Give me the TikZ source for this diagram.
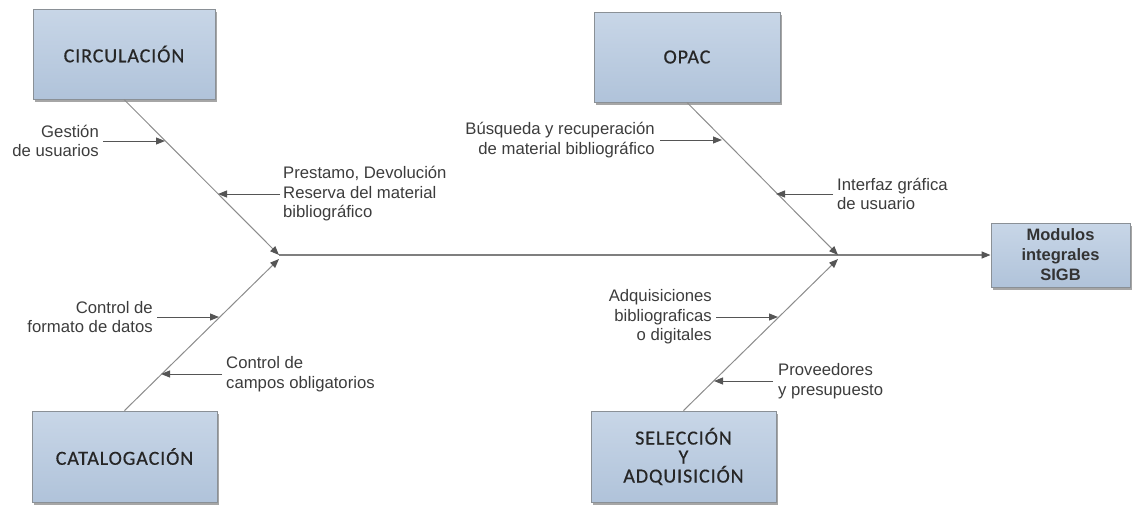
\documentclass[tikz,border=0pt]{standalone}
\usepackage{fontspec}
\setmainfont{Liberation Sans}
\newfontfamily\boxfont[LetterSpace=4.5,FakeBold=0.5]{Carlito}
\usetikzlibrary{arrows.meta,shadows}

\definecolor{boxtop}{HTML}{C8D6E7}
\definecolor{boxbot}{HTML}{B0C3DA}
\definecolor{boxedge}{HTML}{8A9096}
\definecolor{bonegray}{HTML}{8C8C8C}
\definecolor{spinegray}{HTML}{7F7F7F}
\definecolor{arrowgray}{HTML}{555555}
\definecolor{textgray}{HTML}{3C3C3C}

\begin{document}
\begin{tikzpicture}[x=1pt,y=-1pt,
  catbox/.style={draw=boxedge, line width=0.9pt, top color=boxtop, bottom color=boxbot,
    drop shadow={shadow xshift=2pt, shadow yshift=-2.5pt, fill=black, opacity=0.35},
    inner sep=0pt, align=center, text=black!85,
    font=\boxfont\fontsize{20}{19}\selectfont},
  effectbox/.style={catbox, text=black!80,
    font=\bfseries\fontsize{16.5}{20}\selectfont},
  lbl/.style={inner sep=0pt, text=textgray, font=\fontsize{16.7}{19.5}\selectfont},
  tip/.style={-{Triangle[length=9pt,width=7pt,color=arrowgray]}},
  bone/.style={draw=bonegray, line width=1pt, tip},
  spine/.style={draw=spinegray, line width=1.3pt, tip},
  cause/.style={draw=arrowgray, line width=1pt, tip},
]
\useasboundingbox (0,0) rectangle (1132,504);

% category boxes
\node[catbox, minimum width=182pt, minimum height=90pt] (circ) at (124,54) {CIRCULACIÓN};
\node[catbox, minimum width=186pt, minimum height=90pt] (opac) at (687,57) {OPAC};
\node[catbox, minimum width=185pt, minimum height=91pt] (cat) at (124.5,456.5) {CATALOGACIÓN};
\node[catbox, minimum width=185pt, minimum height=91pt] (sel) at (683.5,456.5) {SELECCIÓN\\Y\\ADQUISICIÓN};

% effect box
\node[effectbox, minimum width=139pt, minimum height=64pt] (sigb) at (1060.5,255) {Modulos\\integrales\\SIGB};

% junctions on the spine
\coordinate (j1) at (279,255);
\coordinate (j1b) at (279,259);
\coordinate (j2) at (838,255);
\coordinate (j2b) at (838,259);

% spine and bones
\draw[spine] (j1) -- (sigb.west);
\draw[bone] (circ.south) -- (j1);
\draw[bone] (cat.north) -- (j1b);
\draw[bone] (opac.south) -- (j2);
\draw[bone] (sel.north) -- (j2b);

% arrow tips on the bones
\coordinate (t1) at (165,141);
\coordinate (t2) at (218,194);
\coordinate (t3) at (219,317);
\coordinate (t4) at (161,374);
\coordinate (t5) at (722,140);
\coordinate (t6) at (776,194);
\coordinate (t7) at (778,317);
\coordinate (t8) at (714,381);

% causes
\node[lbl, align=right, anchor=east] (gest) at (99,141) {Gestión\\de usuarios};
\node[lbl, align=left, anchor=west] (prest) at (283,194) {Prestamo, Devolución\\Reserva del material\\bibliográfico};
\node[lbl, align=right, anchor=east] (form) at (153,317) {Control de\\formato de datos};
\node[lbl, align=left, anchor=west] (camp) at (226,374) {Control de\\campos obligatorios};
\node[lbl, align=right, anchor=east] (busq) at (655,140) {Búsqueda y recuperación\\de material bibliográfico};
\node[lbl, align=left, anchor=west] (inter) at (837,194) {Interfaz gráfica\\de usuario};
\node[lbl, align=right, anchor=east] (adq) at (712,317) {Adquisiciones\\bibliograficas\\o digitales};
\node[lbl, align=left, anchor=west] (prov) at (778,381) {Proveedores\\y presupuesto};

\draw[cause] ([xshift=4pt]gest.east) -- (t1);
\draw[cause] ([xshift=-3pt]prest.west) -- (t2);
\draw[cause] ([xshift=4pt]form.east) -- (t3);
\draw[cause] ([xshift=-4pt]camp.west) -- (t4);
\draw[cause] ([xshift=5pt]busq.east) -- (t5);
\draw[cause] ([xshift=-4pt]inter.west) -- (t6);
\draw[cause] ([xshift=4pt]adq.east) -- (t7);
\draw[cause] ([xshift=-5pt]prov.west) -- (t8);
\end{tikzpicture}
\end{document}
